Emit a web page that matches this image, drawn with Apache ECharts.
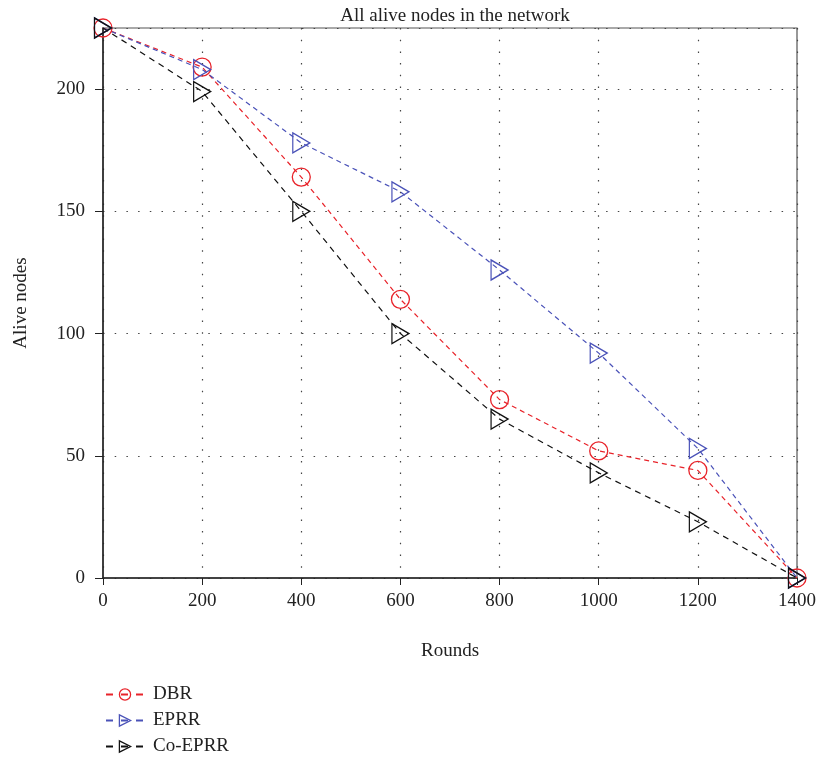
<!DOCTYPE html>
<html><head><meta charset="utf-8">
<script src="https://cdn.jsdelivr.net/npm/echarts@6/dist/echarts.min.js"></script>
<style>html,body{margin:0;padding:0;background:#fff}#c{width:819px;height:762px}</style>
</head><body><div id="c"></div>
<script>
var rounds = [0, 200, 400, 600, 800, 1000, 1200, 1400];
var dbr = [225, 209, 164, 114, 73, 52, 44, 0];
var eprr = [225, 208, 178, 158, 126, 92, 53, 0];
var coeprr = [225, 199, 150, 100, 65, 43, 23, 0];
var seriesNames = ['DBR', 'EPRR', 'Co-EPRR'];

var font = 'Liberation Serif, DejaVu Serif, serif';
var tri = 'path://M0,0L17,10L0,20Z';
function pairs(v){ return rounds.map(function(r,i){ return [r, v[i]]; }); }
function mk(name, data, color, symbol, size, dash){
  return {
    name: name, type: 'line', data: pairs(data),
    symbol: symbol, symbolSize: size,
    itemStyle: {color: 'rgba(0,0,0,0)', borderColor: color, borderWidth: 1.3},
    lineStyle: {color: color, width: 1.2, type: dash},
    emphasis: {disabled: true}, z: 3
  };
}
var chart = echarts.init(document.getElementById('c'));
chart.setOption({
  animation: false,
  backgroundColor: '#fff',
  title: {text: 'All alive nodes in the network', left: 450, textAlign: 'center', top: 2,
    textStyle: {fontFamily: font, fontSize: 19, fontWeight: 'normal', color: '#222'}},
  grid: {left: 103, right: 22, top: 28, bottom: 184, show: true, borderColor: '#555', borderWidth: 1.2},
  xAxis: {type: 'value', min: 0, max: 1400, interval: 200,
    name: 'Rounds', nameLocation: 'middle', nameGap: 64,
    nameTextStyle: {fontFamily: font, fontSize: 19, color: '#222'},
    axisLine: {lineStyle: {color: '#222', width: 1.5}},
    axisTick: {show: true, length: 7, lineStyle: {color: '#222'}},
    axisLabel: {fontFamily: font, fontSize: 19, color: '#222', margin: 14,
      formatter: function(v){ return String(v); }},
    splitLine: {show: true, lineStyle: {color: '#444', type: [1.5, 10.2], width: 1.2}}},
  yAxis: {type: 'value', min: 0, max: 225, interval: 50,
    name: 'Alive nodes', nameLocation: 'middle', nameGap: 72, nameRotate: 90,
    nameTextStyle: {fontFamily: font, fontSize: 19, color: '#222'},
    axisLine: {lineStyle: {color: '#222', width: 1.5}},
    axisTick: {show: true, length: 8, lineStyle: {color: '#222'}},
    axisLabel: {fontFamily: font, fontSize: 19, color: '#222', margin: 18, showMaxLabel: false},
    splitLine: {show: true, lineStyle: {color: '#444', type: [1.5, 10.2], width: 1.2}}},
  legend: {orient: 'vertical', left: 100, top: 680, itemGap: 7, itemWidth: 38, itemHeight: 14,
    data: seriesNames,
    itemStyle: {color: 'rgba(0,0,0,0)', borderWidth: 1.3},
    lineStyle: {type: [7, 8]},
    textStyle: {fontFamily: font, fontSize: 19, color: '#222', padding: [0, 0, 0, 4]}},
  series: [
    mk(seriesNames[0], dbr, '#e8232a', 'circle', 18, [5, 4]),
    mk(seriesNames[1], eprr, '#4a52b8', tri, [17, 20], [5, 4]),
    mk(seriesNames[2], coeprr, '#111', tri, [17, 20], [6, 5])
  ]
});
</script></body></html>
